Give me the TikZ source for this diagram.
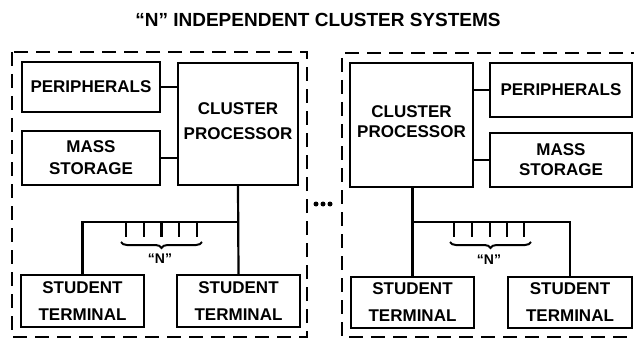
\documentclass[tikz,border=0pt]{standalone}
\usepackage{fontspec}
\setmainfont{Liberation Sans}
\usetikzlibrary{decorations.pathreplacing}
\tikzset{
  box/.style={draw, line width=2.2pt, inner sep=0pt, align=center,
    font=\bfseries\fontsize{17}{20}\selectfont},
  txt/.style={inner sep=0pt, align=center, font=\bfseries\fontsize{17}{20}\selectfont},
  wire/.style={line width=2.2pt},
  outer/.style={line width=2.6pt, dash pattern=on 14pt off 8pt},
  brc/.style={line width=2pt, decorate, decoration={brace, amplitude=6pt}},
  nlab/.style={inner sep=0pt, font=\bfseries\fontsize{14}{16}\selectfont}
}
\begin{document}
\begin{tikzpicture}[x=1pt,y=-1pt]
\useasboundingbox (0,0) rectangle (634,342);
% title
\node[inner sep=0pt, font=\bfseries\fontsize{19}{20}\selectfont] (title) at (318,20) {“N” INDEPENDENT CLUSTER SYSTEMS};
% outer dashed boxes
\draw[outer] (12,52) rectangle (307,337);
\draw[outer] (645,53) -- (342,53) -- (342,337) -- (645,337);
% dots
\foreach \xx in {316,323,330} \fill (\xx,204) circle (2.5);
% ---------- left system
\node[box, minimum width=138pt, minimum height=50pt] (perL) at (91,87) {PERIPHERALS};
\node[box, minimum width=138pt, minimum height=54pt, font=\bfseries\fontsize{17}{22}\selectfont] (msL) at (91,158) {MASS\\STORAGE};
\node[box, minimum width=120pt, minimum height=122pt] (cpL) at (238,124) {};
\node[txt, font=\bfseries\fontsize{17}{25}\selectfont] (cpLt) at (238,121) {CLUSTER\\PROCESSOR};
\node[box, minimum width=123pt, minimum height=52pt, font=\bfseries\fontsize{17}{27}\selectfont] (stLL) at (82.5,301) {STUDENT\\TERMINAL};
\node[box, minimum width=123pt, minimum height=52pt, font=\bfseries\fontsize{17}{27}\selectfont] (stLR) at (238.5,301) {STUDENT\\TERMINAL};
\draw[wire] (perL.east) -- (perL.east -| cpL.west);
\draw[wire] (msL.east) -- (msL.east -| cpL.west);
\coordinate (busL) at (238,222);
\draw[wire] (cpL.south) -- (stLR.north);
\draw[wire] (busL) -| (stLL.north);
\foreach \xx in {126,144,161.5,179,197} \draw[wire] (\xx,222) -- (\xx,237);
\draw[brc] (202,242) -- (121,242);
\node[nlab] (nL) at (160,259) {“N”};
% ---------- right system
\node[box, minimum width=123pt, minimum height=124pt] (cpR) at (411.5,125) {};
\node[txt] (cpRt) at (411.5,122) {CLUSTER\\PROCESSOR};
\node[box, minimum width=142pt, minimum height=54pt] (perR) at (561,90) {PERIPHERALS};
\node[box, minimum width=142pt, minimum height=54pt] (msR) at (561,160) {MASS\\STORAGE};
\node[box, minimum width=123pt, minimum height=51pt, font=\bfseries\fontsize{17}{27}\selectfont] (stRL) at (412.5,302.5) {STUDENT\\TERMINAL};
\node[box, minimum width=124pt, minimum height=51pt, font=\bfseries\fontsize{17}{27}\selectfont] (stRR) at (570,302.5) {STUDENT\\TERMINAL};
\draw[wire] (perR.west) -- (perR.west -| cpR.east);
\draw[wire] (msR.west) -- (msR.west -| cpR.east);
\coordinate (busR) at (412.5,222);
\draw[wire] (cpR.south -| stRL.north) -- (stRL.north);
\draw[wire] (busR) -| (stRR.north);
\foreach \xx in {454,472,490,507,524} \draw[wire] (\xx,222) -- (\xx,237);
\draw[brc] (531,242) -- (450,242);
\node[nlab] (nR) at (489,260) {“N”};
\end{tikzpicture}
\end{document}
